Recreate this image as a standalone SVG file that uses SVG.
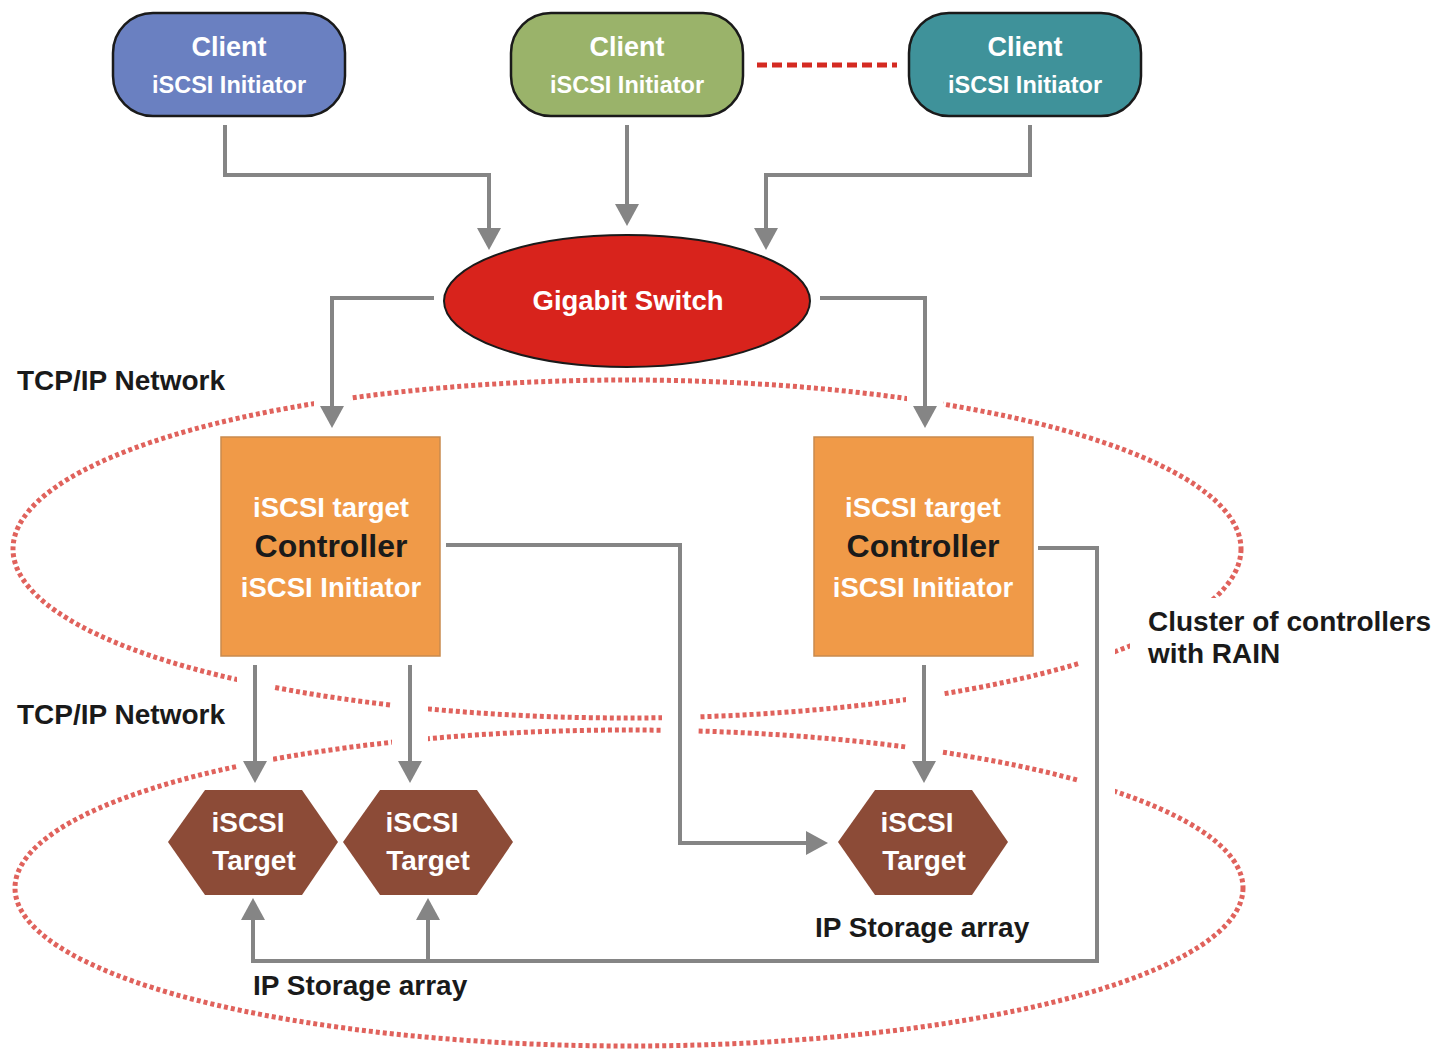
<svg xmlns="http://www.w3.org/2000/svg" width="1441" height="1051" viewBox="0 0 1441 1051">
<style>
.t{font-family:"Liberation Sans",Arial,sans-serif;font-weight:bold;}
.w{fill:#ffffff;}
.k{fill:#1a1a1a;}
.dot{fill:none;stroke:#e0625c;stroke-width:5;stroke-dasharray:4 3;}
.halo{fill:none;stroke:#ffffff;stroke-width:36;}
.con{fill:none;stroke:#858585;stroke-width:4;}
.client{stroke:#1a1a1a;stroke-width:2.5;}
.ctrl{fill:#f09a48;stroke:#c98a4e;stroke-width:1.5;}
.hex{fill:#8c4b37;}
</style>
<defs>
<marker id="ah" markerUnits="userSpaceOnUse" viewBox="0 0 22 24" markerWidth="22" markerHeight="24" refX="18" refY="12" orient="auto">
<path d="M0,0 L22,12 L0,24 z" fill="#858585"/>
</marker>
</defs>
<rect width="1441" height="1051" fill="#ffffff"/>

<g id="clusters">
<ellipse class="dot" cx="627" cy="549" rx="614" ry="169"/>
<ellipse class="dot" cx="629" cy="888" rx="614" ry="158"/>
</g>

<g id="halos">
<path class="halo" d="M434,298 H332 V420"/>
<path class="halo" d="M820,298 H925 V420"/>
<path class="halo" d="M255,665 V775"/>
<path class="halo" d="M410,665 V775"/>
<path class="halo" d="M446,545 H680 V843 H800"/>
<path class="halo" d="M924,665 V775"/>
<path class="halo" d="M1038,548 H1097 V940"/>
<rect x="1130" y="598" width="311" height="80" fill="#ffffff"/>
</g>

<g id="connectors">
<path class="con" d="M225,125 V175 H489 V246" marker-end="url(#ah)"/>
<path class="con" d="M627,125 V222" marker-end="url(#ah)"/>
<path class="con" d="M1030,125 V175 H766 V246" marker-end="url(#ah)"/>
<path class="con" d="M434,298 H332 V424" marker-end="url(#ah)"/>
<path class="con" d="M820,298 H925 V424" marker-end="url(#ah)"/>
<path class="con" d="M255,665 V779" marker-end="url(#ah)"/>
<path class="con" d="M410,665 V779" marker-end="url(#ah)"/>
<path class="con" d="M446,545 H680 V843 H824" marker-end="url(#ah)"/>
<path class="con" d="M924,665 V779" marker-end="url(#ah)"/>
<path class="con" d="M1038,548 H1097 V961 H253 V902" marker-end="url(#ah)"/>
<path class="con" d="M428,961 V902" marker-end="url(#ah)"/>
<line x1="757" y1="65" x2="897" y2="65" stroke="#d42a22" stroke-width="5" stroke-dasharray="10 5"/>
</g>

<g id="client1">
<rect class="client" x="113" y="13" width="232" height="103" rx="40" fill="#6a80c1"/>
<text class="t w" x="229" y="56" font-size="27" text-anchor="middle">Client</text>
<text class="t w" x="229" y="93" font-size="23.5" text-anchor="middle">iSCSI Initiator</text>
</g>
<g id="client2">
<rect class="client" x="511" y="13" width="232" height="103" rx="40" fill="#9ab36a"/>
<text class="t w" x="627" y="56" font-size="27" text-anchor="middle">Client</text>
<text class="t w" x="627" y="93" font-size="23.5" text-anchor="middle">iSCSI Initiator</text>
</g>
<g id="client3">
<rect class="client" x="909" y="13" width="232" height="103" rx="40" fill="#3f929a"/>
<text class="t w" x="1025" y="56" font-size="27" text-anchor="middle">Client</text>
<text class="t w" x="1025" y="93" font-size="23.5" text-anchor="middle">iSCSI Initiator</text>
</g>

<g id="switch">
<ellipse cx="627" cy="301" rx="183" ry="66" fill="#d8231c" stroke="#1a1a1a" stroke-width="2"/>
<text class="t w" x="628" y="310" font-size="27.5" text-anchor="middle">Gigabit Switch</text>
</g>

<g id="controller1">
<rect class="ctrl" x="221" y="437" width="219" height="219"/>
<text class="t w" x="331" y="517" font-size="27.5" text-anchor="middle">iSCSI target</text>
<text class="t k" x="331" y="557" font-size="32" text-anchor="middle">Controller</text>
<text class="t w" x="331" y="597" font-size="27.5" text-anchor="middle">iSCSI Initiator</text>
</g>
<g id="controller2">
<rect class="ctrl" x="814" y="437" width="219" height="219"/>
<text class="t w" x="923" y="517" font-size="27.5" text-anchor="middle">iSCSI target</text>
<text class="t k" x="923" y="557" font-size="32" text-anchor="middle">Controller</text>
<text class="t w" x="923" y="597" font-size="27.5" text-anchor="middle">iSCSI Initiator</text>
</g>

<g id="target1">
<polygon class="hex" points="168,842 205,790 302,790 338,842 302,895 205,895"/>
<text class="t w" x="248" y="832" font-size="28" text-anchor="middle">iSCSI</text>
<text class="t w" x="254" y="870" font-size="28" text-anchor="middle">Target</text>
</g>
<g id="target2">
<polygon class="hex" points="343,842 380,790 477,790 513,842 477,895 380,895"/>
<text class="t w" x="422" y="832" font-size="28" text-anchor="middle">iSCSI</text>
<text class="t w" x="428" y="870" font-size="28" text-anchor="middle">Target</text>
</g>
<g id="target3">
<polygon class="hex" points="838,842 875,790 972,790 1008,842 972,895 875,895"/>
<text class="t w" x="917" y="832" font-size="28" text-anchor="middle">iSCSI</text>
<text class="t w" x="924" y="870" font-size="28" text-anchor="middle">Target</text>
</g>

<g id="labels">
<text class="t k" x="17" y="390" font-size="28">TCP/IP Network</text>
<text class="t k" x="17" y="724" font-size="28">TCP/IP Network</text>
<text class="t k" x="1148" y="631" font-size="28">Cluster of controllers</text>
<text class="t k" x="1148" y="663" font-size="28">with RAIN</text>
<text class="t k" x="815" y="937" font-size="28">IP Storage array</text>
<text class="t k" x="253" y="995" font-size="28">IP Storage array</text>
</g>
</svg>
